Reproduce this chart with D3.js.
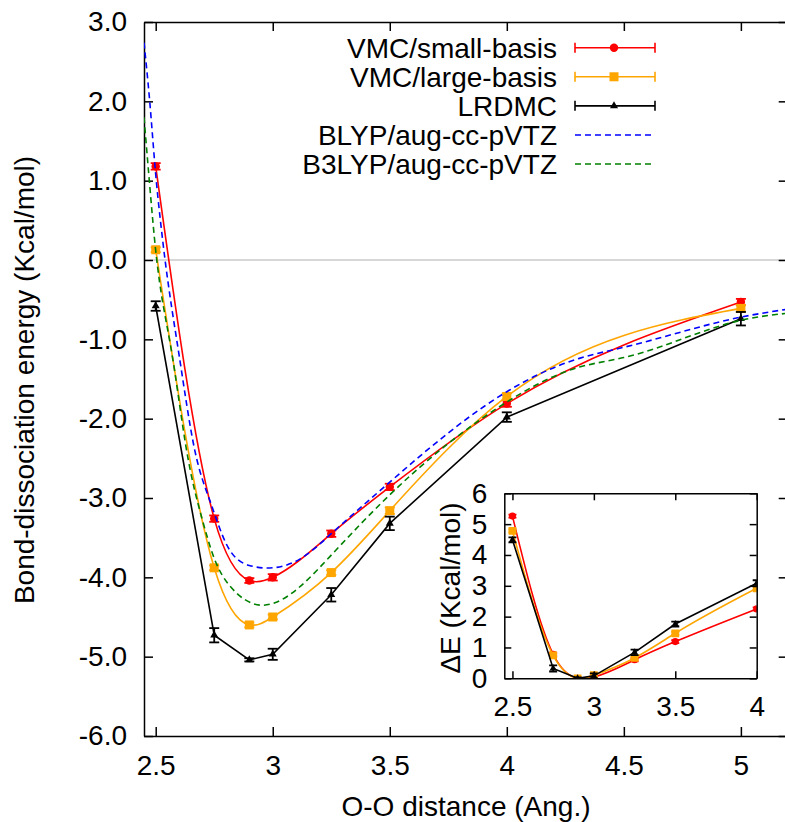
<!DOCTYPE html>
<html><head><meta charset="utf-8">
<script src="https://cdn.jsdelivr.net/npm/d3@7"></script>
<style>
body{margin:0;background:#fff;}
text{font-family:"Liberation Sans",Arial,Helvetica,sans-serif;font-size:28px;fill:#000;}
</style></head>
<body><svg id="c" width="785" height="822"></svg>
<script>
// ---------- data ----------
const distances = [2.5, 2.75, 2.9, 3.0, 3.25, 3.5, 4.0, 5.0];
const vmcSmall    = [1.18, -3.26, -4.04, -4.00, -3.45, -2.86, -1.81, -0.53];
const vmcSmallErr = [0.04, 0.04, 0.03, 0.04, 0.04, 0.04, 0.04, 0.04];
const vmcLarge    = [0.13, -3.88, -4.60, -4.50, -3.94, -3.16, -1.72, -0.61];
const vmcLargeErr = [0.03, 0.03, 0.03, 0.03, 0.03, 0.04, 0.04, 0.04];
const lrdmc       = [-0.58, -4.73, -5.04, -4.97, -4.22, -3.32, -1.98, -0.74];
const lrdmcErr    = [0.06, 0.09, 0.02, 0.07, 0.085, 0.085, 0.06, 0.085];

const blypX  = [2.45, 2.475, 2.5, 2.52, 2.54, 2.6, 2.667, 2.731, 2.8, 2.9, 3.0, 3.116, 3.25, 3.5, 3.65, 4.0, 4.31, 4.5, 5.0, 5.2];
const blypY  = [2.74, 1.98, 1.08, 0.50, 0.0, -1.20, -2.40, -3.03, -3.57, -3.85, -3.88, -3.77, -3.45, -2.80, -2.42, -1.66, -1.24, -1.10, -0.72, -0.62];
const b3lypX = [2.45, 2.475, 2.5, 2.567, 2.632, 2.696, 2.75, 2.82, 2.945, 3.0, 3.25, 3.5, 4.0, 4.31, 4.5, 5.0, 5.2];
const b3lypY = [1.80, 0.92, 0.12, -1.14, -2.40, -3.24, -3.76, -4.12, -4.35, -4.33, -3.72, -2.96, -1.79, -1.35, -1.23, -0.76, -0.67];

const insetDist     = [2.5, 2.75, 2.9, 3.0, 3.25, 3.5, 4.0];
const insetSmall    = [5.26, 0.78, 0.0, 0.04, 0.60, 1.19, 2.25];
const insetSmallErr = [0.05, 0.05, 0.03, 0.05, 0.05, 0.05, 0.05];
const insetLarge    = [4.78, 0.74, 0.0, 0.10, 0.66, 1.46, 2.92];
const insetLargeErr = [0.05, 0.05, 0.03, 0.05, 0.05, 0.05, 0.05];
const insetLrdmc    = [4.49, 0.32, 0.0, 0.08, 0.84, 1.76, 3.08];
const insetLrdmcErr = [0.08, 0.10, 0.03, 0.08, 0.09, 0.08, 0.10];

const mainXTicks = [2.5, 3, 3.5, 4, 4.5, 5];
const mainYTicks = [-6, -5, -4, -3, -2, -1, 0, 1, 2, 3];
const insetXTicks = [2.5, 3, 3.5, 4];
const insetYTicks = [0, 1, 2, 3, 4, 5, 6];
const legendLabels = ["VMC/small-basis", "VMC/large-basis", "LRDMC", "BLYP/aug-cc-pVTZ", "B3LYP/aug-cc-pVTZ"];

// ---------- natural cubic spline y(x) curve ----------
function NatX(ctx){this._context=ctx;}
NatX.prototype={
  areaStart(){}, areaEnd(){},
  lineStart(){this._x=[];this._y=[];},
  point(x,y){this._x.push(+x);this._y.push(+y);},
  lineEnd(){
    const x=this._x,y=this._y,n=x.length,c=this._context;
    if(!n)return; c.moveTo(x[0],y[0]);
    if(n<3){for(let i=1;i<n;i++)c.lineTo(x[i],y[i]);return;}
    const h=[];for(let i=0;i<n-1;i++)h.push(x[i+1]-x[i]);
    const M=new Array(n).fill(0);
    const m=n-2,a=[],b=[],cc=[],d=[];
    for(let i=1;i<=m;i++){
      a.push(h[i-1]);b.push(2*(h[i-1]+h[i]));cc.push(h[i]);
      d.push(6*((y[i+1]-y[i])/h[i]-(y[i]-y[i-1])/h[i-1]));
    }
    for(let i=1;i<m;i++){const w=a[i]/b[i-1];b[i]-=w*cc[i-1];d[i]-=w*d[i-1];}
    const s=new Array(m);s[m-1]=d[m-1]/b[m-1];
    for(let i=m-2;i>=0;i--)s[i]=(d[i]-cc[i]*s[i+1])/b[i];
    for(let i=0;i<m;i++)M[i+1]=s[i];
    for(let i=0;i<n-1;i++){
      const hi=h[i],sl=(y[i+1]-y[i])/hi;
      const m0=sl-hi*(2*M[i]+M[i+1])/6, m1=sl+hi*(M[i]+2*M[i+1])/6;
      c.bezierCurveTo(x[i]+hi/3,y[i]+m0*hi/3,x[i+1]-hi/3,y[i+1]-m1*hi/3,x[i+1],y[i+1]);
    }
  }
};
const curveNatX=ctx=>new NatX(ctx);

// ---------- setup ----------
const svg=d3.select("#c");
const RED="#ff0000",ORANGE="#ffa500",BLUE="#0000ff",GREEN="#008000";

const x=d3.scaleLinear().domain([2.45,5.2]).range([144,787.7]);
const y=d3.scaleLinear().domain([-6,3]).range([736,22]);

svg.append("defs").append("clipPath").attr("id","clipMain")
  .append("rect").attr("x",144).attr("y",22).attr("width",643.7).attr("height",714);

// zero line
svg.append("line").attr("x1",x(2.45)).attr("x2",x(5.2)).attr("y1",y(0)).attr("y2",y(0))
  .attr("stroke","#b0b0b0").attr("stroke-width",1.2);

// axes
const fmtY=d=>d3.format(".1f")(d).replace("\u2212","-");
svg.append("g").attr("transform","translate(0,736)")
  .call(d3.axisBottom(x).tickValues(mainXTicks).tickSize(-9).tickSizeOuter(0).tickPadding(19).tickFormat(d3.format("")))
  .call(g=>{g.selectAll("text").style("font-size","28px").attr("fill","#000");g.selectAll("line,path").attr("stroke","#000").attr("stroke-width",1.5);});
svg.append("g").attr("transform","translate(0,22)")
  .call(d3.axisTop(x).tickValues(mainXTicks).tickSize(-9).tickSizeOuter(0).tickFormat(""))
  .call(g=>g.selectAll("line,path").attr("stroke","#000").attr("stroke-width",1.5));
svg.append("g").attr("transform","translate(144,0)")
  .call(d3.axisLeft(y).tickValues(mainYTicks).tickSize(-9).tickSizeOuter(0).tickPadding(17).tickFormat(fmtY))
  .call(g=>{g.selectAll("text").style("font-size","28px").attr("fill","#000");g.selectAll("line,path").attr("stroke","#000").attr("stroke-width",1.5);});
svg.append("g").attr("transform","translate(787.7,0)")
  .call(d3.axisRight(y).tickValues(mainYTicks).tickSize(-9).tickSizeOuter(0).tickFormat(""))
  .call(g=>g.selectAll("line,path").attr("stroke","#000").attr("stroke-width",1.5));

// axis labels
svg.append("text").attr("x",466).attr("y",816).attr("text-anchor","middle").text("O-O distance (Ang.)");
svg.append("text").attr("transform","translate(34,380) rotate(-90)").attr("text-anchor","middle").text("Bond-dissociation energy (Kcal/mol)");

// ---------- series drawing ----------
function drawSeries(parent, xs, ys, errs, sx, sy, color, curve, marker, cap){
  const g=parent.append("g");
  const pts=xs.map((d,i)=>[d,ys[i],errs[i]]);
  g.append("path").datum(pts)
    .attr("d",d3.line().x(d=>sx(d[0])).y(d=>sy(d[1])).curve(curve))
    .attr("fill","none").attr("stroke",color).attr("stroke-width",1.6);
  const eb=g.append("g").attr("stroke",color).attr("stroke-width",1.8);
  eb.selectAll("line.v").data(pts).join("line").attr("class","v")
    .attr("x1",d=>sx(d[0])).attr("x2",d=>sx(d[0])).attr("y1",d=>sy(d[1]-d[2])).attr("y2",d=>sy(d[1]+d[2]));
  eb.selectAll("line.t").data(pts).join("line").attr("class","t")
    .attr("x1",d=>sx(d[0])-cap).attr("x2",d=>sx(d[0])+cap).attr("y1",d=>sy(d[1]+d[2])).attr("y2",d=>sy(d[1]+d[2]));
  eb.selectAll("line.b").data(pts).join("line").attr("class","b")
    .attr("x1",d=>sx(d[0])-cap).attr("x2",d=>sx(d[0])+cap).attr("y1",d=>sy(d[1]-d[2])).attr("y2",d=>sy(d[1]-d[2]));
  g.append("g").selectAll("path").data(pts).join("path")
    .attr("transform",d=>`translate(${sx(d[0])},${sy(d[1])})`)
    .attr("d",marker).attr("fill",color);
}
const circ=d3.symbol(d3.symbolCircle,56)();
const sq=d3.symbol(d3.symbolSquare,81)();
const tri=d3.symbol(d3.symbolTriangle,28)();

const gm=svg.append("g").attr("clip-path","url(#clipMain)");
drawSeries(gm,distances,vmcSmall,vmcSmallErr,x,y,RED,curveNatX,circ,5);
drawSeries(gm,distances,vmcLarge,vmcLargeErr,x,y,ORANGE,curveNatX,sq,5);
drawSeries(gm,distances,lrdmc,lrdmcErr,x,y,"#000",d3.curveLinear,tri,5);
gm.append("path").datum(blypX.map((d,i)=>[d,blypY[i]]))
  .attr("d",d3.line().x(d=>x(d[0])).y(d=>y(d[1])).curve(curveNatX))
  .attr("fill","none").attr("stroke",BLUE).attr("stroke-width",1.6).attr("stroke-dasharray","6,4");
gm.append("path").datum(b3lypX.map((d,i)=>[d,b3lypY[i]]))
  .attr("d",d3.line().x(d=>x(d[0])).y(d=>y(d[1])).curve(curveNatX))
  .attr("fill","none").attr("stroke",GREEN).attr("stroke-width",1.6).attr("stroke-dasharray","6,4");

// ---------- legend ----------
const legY=d3.scaleLinear().domain([0,4]).range([47.7,164]);
const lg=svg.append("g");
legendLabels.forEach((lab,i)=>{
  const yy=legY(i);
  lg.append("text").attr("x",557).attr("y",yy).attr("dy","0.35em").attr("text-anchor","end").text(lab);
  const col=[RED,ORANGE,"#000",BLUE,GREEN][i];
  const l=lg.append("g").attr("stroke",col).attr("stroke-width",1.6);
  l.append("line").attr("x1",575).attr("x2",655).attr("y1",yy).attr("y2",yy).attr("stroke-dasharray",i>=3?"6,4":null);
  if(i<3){
    l.append("line").attr("x1",575).attr("x2",575).attr("y1",yy-5).attr("y2",yy+5);
    l.append("line").attr("x1",655).attr("x2",655).attr("y1",yy-5).attr("y2",yy+5);
    lg.append("path").attr("transform",`translate(614,${yy})`).attr("d",[circ,sq,tri][i]).attr("fill",col);
  }
});

// ---------- inset ----------
const ix=d3.scaleLinear().domain([2.45,4.0]).range([504.3,756.7]);
const iy=d3.scaleLinear().domain([0,6]).range([678.3,493.3]);
svg.append("rect").attr("x",504.3).attr("y",493.3).attr("width",252.4).attr("height",185).attr("fill","#fff");
svg.append("defs").append("clipPath").attr("id","clipIn")
  .append("rect").attr("x",504.3).attr("y",488).attr("width",252.4).attr("height",190.3);
const gi=svg.append("g").attr("clip-path","url(#clipIn)");
drawSeries(gi,insetDist,insetSmall,insetSmallErr,ix,iy,RED,curveNatX,d3.symbol(d3.symbolCircle,40)(),4);
drawSeries(gi,insetDist,insetLarge,insetLargeErr,ix,iy,ORANGE,curveNatX,d3.symbol(d3.symbolSquare,60)(),4);
drawSeries(gi,insetDist,insetLrdmc,insetLrdmcErr,ix,iy,"#000",d3.curveLinear,d3.symbol(d3.symbolTriangle,22)(),4);

svg.append("g").attr("transform","translate(0,678.3)")
  .call(d3.axisBottom(ix).tickValues(insetXTicks).tickSize(-7).tickSizeOuter(0).tickPadding(18).tickFormat(d3.format("")))
  .call(g=>{g.selectAll("text").style("font-size","28px").attr("fill","#000");g.selectAll("line,path").attr("stroke","#000").attr("stroke-width",1.5);});
svg.append("g").attr("transform","translate(0,493.3)")
  .call(d3.axisTop(ix).tickValues(insetXTicks).tickSize(-7).tickSizeOuter(0).tickFormat(""))
  .call(g=>g.selectAll("line,path").attr("stroke","#000").attr("stroke-width",1.5));
svg.append("g").attr("transform","translate(504.3,0)")
  .call(d3.axisLeft(iy).tickValues(insetYTicks).tickSize(-7).tickSizeOuter(0).tickPadding(17).tickFormat(d3.format("d")))
  .call(g=>{g.selectAll("text").style("font-size","28px").attr("fill","#000");g.selectAll("line,path").attr("stroke","#000").attr("stroke-width",1.5);});
svg.append("g").attr("transform","translate(756.7,0)")
  .call(d3.axisRight(iy).tickValues(insetYTicks).tickSize(-7).tickSizeOuter(0).tickFormat(""))
  .call(g=>g.selectAll("line,path").attr("stroke","#000").attr("stroke-width",1.5));
svg.append("text").attr("transform","translate(460,588) rotate(-90)").attr("text-anchor","middle").text("ΔE (Kcal/mol)");
</script></body></html>
